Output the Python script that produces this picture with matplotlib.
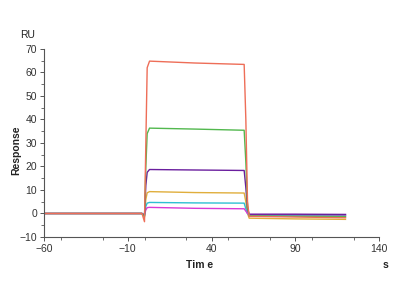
import matplotlib
matplotlib.use("Agg")
import matplotlib.pyplot as plt
from matplotlib.ticker import MultipleLocator

plt.rcParams['font.family'] = ['Liberation Sans', 'DejaVu Sans']

# breakpoints of time (s)
t = [-60, -1.5, 0, 0.8, 1.6, 3.0, 30, 59.5, 60.5, 61.5, 62.5, 90, 120]

red     = [0, 0, -3.5, 30, 62, 64.8, 64.0, 63.4, 40, 5, -1.2, -1.5, -1.8]
green   = [0, 0, -1.5, 20, 34, 36.3, 35.9, 35.4, 22, 3, -1.0, -1.2, -1.3]
purple  = [0, 0, -1.0, 12, 17.5, 18.7, 18.5, 18.3, 11, 2, -0.3, -0.3, -0.4]
orange  = [0, 0, -1.0, 6, 8.8, 9.3, 8.9, 8.7, 5, 0, -2.0, -2.3, -2.5]
cyan    = [0, 0, -0.5, 3, 4.4, 4.7, 4.5, 4.4, 2, 0, -0.8, -0.9, -1.0]
magenta = [0, 0, -0.5, 1.5, 2.5, 2.6, 2.2, 2.0, 1, 0, -0.5, -0.5, -0.6]

series = [
    (orange, "#E0AE3C"),
    (cyan, "#2EC0D2"),
    (magenta, "#D83AD6"),
    (purple, "#6A1E9E"),
    (green, "#52B84E"),
    (red, "#EE6E58"),
]

xticks = [-60, -10, 40, 90, 140]
yticks = [-10, 0, 10, 20, 30, 40, 50, 60, 70]

fig = plt.figure(figsize=(4, 3), dpi=100)
ax = fig.add_axes([0.11, 0.21, 0.8375, 0.627])
for vals, c in series:
    ax.plot(t, vals, color=c, lw=1.0)

ax.set_xlim(-60, 140)
ax.set_ylim(-10, 70)
ax.set_xticks(xticks)
ax.set_yticks(yticks)
ax.xaxis.set_minor_locator(MultipleLocator(25))
ax.yaxis.set_minor_locator(MultipleLocator(5))
for s in ["top", "right"]:
    ax.spines[s].set_visible(False)
for s in ["left", "bottom"]:
    ax.spines[s].set_color("#555555")
    ax.spines[s].set_linewidth(0.8)
ax.tick_params(which="major", length=3, width=0.7, color="#555555",
               labelsize=7.5, labelcolor="#333333", pad=2)
ax.tick_params(which="minor", length=2, width=0.6, color="#555555")

fig.text(0.04, 0.50, "Response", fontsize=7.5, fontweight="bold", rotation=90,
         ha="center", va="center", color="#222222")
fig.text(0.5, 0.115, "Tim e", fontsize=7.5, fontweight="bold", ha="center", va="center", color="#222222")
fig.text(0.963, 0.115, "s", fontsize=7.5, fontweight="bold", ha="center", va="center", color="#222222")
fig.text(0.07, 0.883, "RU", fontsize=7.5, ha="center", va="center", color="#222222")

fig.savefig("out.png", dpi=100)
